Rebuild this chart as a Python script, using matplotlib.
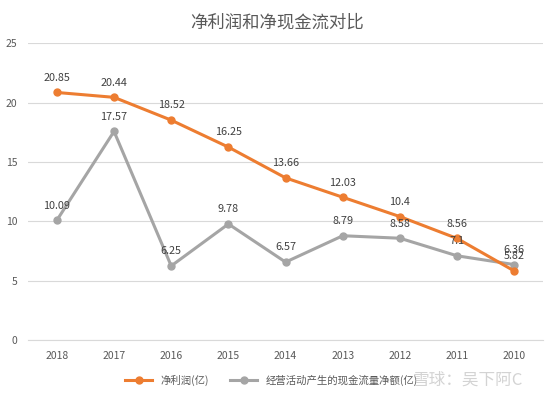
import matplotlib
matplotlib.use("Agg")
import matplotlib.pyplot as plt
from matplotlib.lines import Line2D

plt.rcParams['font.family'] = ['Noto Sans CJK SC', 'DejaVu Sans']

years = ["2018", "2017", "2016", "2015", "2014", "2013", "2012", "2011", "2010"]
net_profit = [20.85, 20.44, 18.52, 16.25, 13.66, 12.03, 10.4, 8.56, 5.82]
cash_flow = [10.09, 17.57, 6.25, 9.78, 6.57, 8.79, 8.58, 7.1, 6.36]
profit_labels = ["20.85", "20.44", "18.52", "16.25", "13.66", "12.03", "10.4", "8.56", "5.82"]
cash_labels = ["10.09", "17.57", "6.25", "9.78", "6.57", "8.79", "8.58", "7.1", "6.36"]

orange = "#ED7D31"
gray = "#A5A5A5"
text_c = "#595959"

fig = plt.figure(figsize=(5.54, 3.96), dpi=100)
ax = fig.add_axes([0.051, 0.141, 0.929, 0.750])

x = list(range(len(years)))
ax.plot(x, cash_flow, color=gray, lw=2.2, marker="o", ms=5, zorder=3)
ax.plot(x, net_profit, color=orange, lw=2.2, marker="o", ms=5, zorder=4)

for i in x:
    ax.annotate(profit_labels[i], (i, net_profit[i]), xytext=(0, 7), textcoords="offset points",
                ha="center", va="bottom", fontsize=7.8, color="#404040", zorder=5)
    ax.annotate(cash_labels[i], (i, cash_flow[i]), xytext=(0, 7), textcoords="offset points",
                ha="center", va="bottom", fontsize=7.8, color="#404040", zorder=5)

ax.set_xlim(-0.5, len(years) - 0.5)
ax.set_ylim(0, 25)
ax.set_yticks([0, 5, 10, 15, 20, 25])
ax.set_xticks(x)
ax.set_xticklabels(years)
ax.tick_params(axis="both", length=0, labelsize=7.5, colors=text_c)
ax.tick_params(axis="y", pad=8)
ax.tick_params(axis="x", pad=8)
ax.grid(axis="y", color="#D9D9D9", lw=0.8)
ax.set_axisbelow(True)
for s in ["top", "right", "left"]:
    ax.spines[s].set_visible(False)
ax.spines["bottom"].set_color("#D9D9D9")

fig.text(0.5, 0.942, "净利润和净现金流对比", ha="center", va="center", fontsize=12.5, color=text_c)

handles = [
    Line2D([0], [0], color=orange, lw=2.2, marker="o", ms=5),
    Line2D([0], [0], color=gray, lw=2.2, marker="o", ms=5),
]
fig.legend(handles, ["净利润(亿)", "经营活动产生的现金流量净额(亿)"], loc="center",
           bbox_to_anchor=(0.49, 0.04), ncol=2, frameon=False, fontsize=7.5,
           labelcolor=text_c, handlelength=2.6, columnspacing=2.0)

fig.text(0.745, 0.04, "雪球：吴下阿C", ha="left", va="center", fontsize=12,
         color="#C8C8C8", alpha=0.8, zorder=10)

fig.savefig("out.png", dpi=100)
